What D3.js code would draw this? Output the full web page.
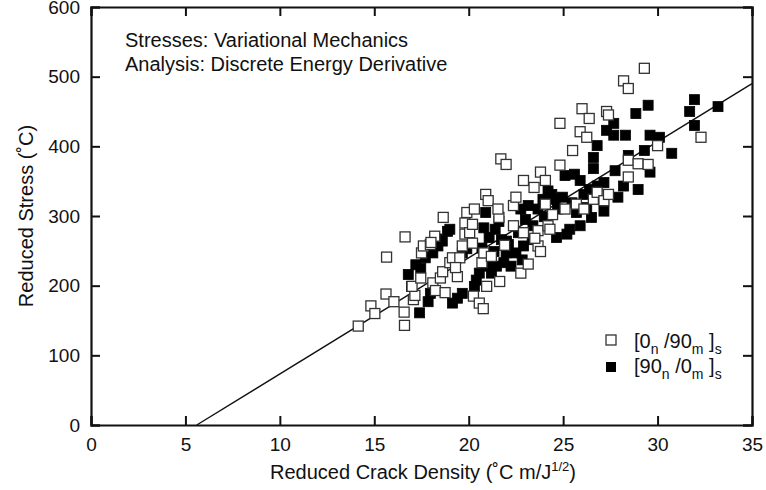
<!DOCTYPE html>
<html>
<head>
<meta charset="utf-8">
<script src="https://cdn.jsdelivr.net/npm/d3@7"></script>
<style>
  body { margin: 0; background: #fff; }
  text { font-family: "Liberation Sans", Arial, sans-serif; fill: #111; }
</style>
</head>
<body>
<div id="drawArea"></div>
<script>
// [0n/90m]s laminates (open squares)
var openX = [14.15, 14.82, 15.03, 15.65, 15.62, 16.04, 16.58, 16.6, 16.63, 17.07,
    17.15, 17.0, 17.46, 17.5, 17.6, 17.97, 18.2, 18.65, 18.1, 18.24,
    18.5, 18.75, 18.62, 19.0, 19.14, 19.4, 19.53, 19.66, 19.8, 19.8,
    19.9, 20.05, 20.2, 20.2, 20.3, 20.25, 20.56, 20.77, 20.7, 20.8,
    20.9, 21.03, 20.95, 21.2, 21.6, 21.55, 21.64, 21.7, 21.98, 22.37,
    22.5, 22.37, 22.76, 22.9, 22.9, 23.15, 23.46, 23.67, 23.8, 23.8,
    23.67, 24.06, 24.06, 24.2, 24.3, 24.44, 24.83, 24.83, 25.1, 25.5,
    25.7, 25.9, 26.0, 26.1, 26.25, 26.38, 26.6, 26.8, 27.16, 27.3,
    27.4, 27.4, 28.2, 28.45, 28.45, 28.45, 28.97, 29.3, 29.5, 30.0,
    32.3, 18.0, 19.3, 21.9, 23.5];
var openY = [142, 171, 160, 241, 188, 177, 162, 143, 270, 180,
    186, 199, 211, 247, 257, 259, 271, 298, 204, 193,
    211, 190, 220, 233, 240, 213, 240, 257, 274, 290,
    305, 276, 261, 288, 310, 185, 175, 167, 233, 247,
    331, 322, 199, 242, 298, 310, 206, 382, 374, 315,
    327, 286, 218, 276, 351, 231, 341, 257, 249, 363,
    279, 351, 317, 286, 281, 302, 433, 373, 310, 394,
    317, 421, 454, 310, 413, 440, 324, 334, 322, 450,
    445, 331, 494, 483, 380, 356, 375, 512, 374, 401,
    413, 262, 226, 258, 268];

// [90n/0m]s laminates (filled squares)
var filledX = [17.4, 16.8, 16.97, 17.2, 17.46, 17.85, 17.97, 17.7, 18.1, 18.37,
    18.6, 18.88, 19.0, 19.14, 19.4, 19.66, 19.66, 19.9, 20.3, 20.4,
    20.56, 20.7, 20.8, 20.9, 20.95, 21.08, 21.2, 21.34, 21.4, 21.47,
    21.73, 21.86, 21.98, 22.1, 22.24, 22.5, 22.63, 22.76, 22.83, 22.9,
    23.0, 23.15, 23.36, 23.4, 23.67, 23.93, 24.2, 24.4, 24.57, 24.65,
    24.7, 24.96, 25.1, 25.2, 25.35, 25.47, 25.6, 25.7, 25.9, 25.9,
    26.1, 26.25, 26.4, 26.5, 26.6, 26.6, 26.8, 26.8, 27.16, 27.16,
    27.3, 27.68, 27.68, 27.75, 27.9, 28.2, 28.3, 28.45, 28.85, 28.97,
    29.3, 29.5, 29.6, 29.6, 30.1, 30.75, 31.7, 31.95, 31.95, 33.2,
    18.3, 22.0, 24.0, 21.6];
var filledY = [161, 216, 199, 230, 225, 177, 189, 240, 247, 257,
    264, 278, 281, 175, 182, 189, 247, 253, 199, 208,
    218, 254, 283, 305, 228, 269, 218, 249, 281, 228,
    266, 233, 247, 259, 228, 247, 276, 310, 237, 257,
    295, 315, 266, 286, 310, 324, 336, 331, 324, 269,
    310, 327, 358, 274, 281, 319, 360, 305, 351, 286,
    331, 312, 338, 298, 368, 384, 343, 401, 307, 348,
    423, 433, 416, 365, 327, 343, 416, 387, 447, 338,
    394, 459, 416, 363, 413, 390, 450, 467, 430, 457,
    267, 264, 299, 292];

// fitted line end points
var fitX = [5.6, 35];
var fitY = [0, 490];

var xTicks = [0, 5, 10, 15, 20, 25, 30, 35];
var yTicks = [0, 100, 200, 300, 400, 500, 600];

var width = 766, height = 490;
var mLeft = 91, mRight = 752, mTop = 7, mBottom = 425;

var svg = d3.select('#drawArea')
    .append('svg')
    .attr('width', width)
    .attr('height', height);

var x = d3.scaleLinear().domain([0, 35]).range([mLeft, mRight]);
var y = d3.scaleLinear().domain([0, 600]).range([mBottom, mTop]);

// axes: ticks pointing inward on all four sides
svg.append('g')
    .attr('transform', 'translate(0,' + mBottom + ')')
    .call(d3.axisBottom(x).tickValues(xTicks).tickSize(-9).tickPadding(13))
    .call(styleAxis);
svg.append('g')
    .attr('transform', 'translate(0,' + mTop + ')')
    .call(d3.axisTop(x).tickValues(xTicks).tickSize(-9).tickFormat(''))
    .call(styleAxis);
svg.append('g')
    .attr('transform', 'translate(' + mLeft + ',0)')
    .call(d3.axisLeft(y).tickValues(yTicks).tickSize(-9).tickPadding(11))
    .call(styleAxis);
svg.append('g')
    .attr('transform', 'translate(' + mRight + ',0)')
    .call(d3.axisRight(y).tickValues(yTicks).tickSize(-9).tickFormat(''))
    .call(styleAxis);

function styleAxis(g) {
    g.select('.domain').attr('stroke', '#111').attr('stroke-width', 2.2);
    g.selectAll('.tick line').attr('stroke', '#111').attr('stroke-width', 2);
    g.selectAll('.tick text')
        .attr('font-size', 19)
        .attr('font-family', '"Liberation Sans", Arial, sans-serif')
        .attr('fill', '#111');
}

// fit line
svg.append('line')
    .attr('x1', x(fitX[0])).attr('y1', y(fitY[0]))
    .attr('x2', x(fitX[1])).attr('y2', y(fitY[1]))
    .attr('stroke', '#111')
    .attr('stroke-width', 1.4);

var filled = filledX.map(function (d, i) { return { x: d, y: filledY[i] }; });
var open = openX.map(function (d, i) { return { x: d, y: openY[i] }; });
var s = 10;

svg.selectAll('rect.filled')
    .data(filled)
    .enter()
    .append('rect')
    .attr('class', 'filled')
    .attr('x', function (d) { return x(d.x) - s / 2; })
    .attr('y', function (d) { return y(d.y) - s / 2; })
    .attr('width', s).attr('height', s)
    .attr('fill', '#000')
    .attr('stroke', '#000')
    .attr('stroke-width', 0.8);

svg.selectAll('rect.open')
    .data(open)
    .enter()
    .append('rect')
    .attr('class', 'open')
    .attr('x', function (d) { return x(d.x) - s / 2; })
    .attr('y', function (d) { return y(d.y) - s / 2; })
    .attr('width', s).attr('height', s)
    .attr('fill', '#fff')
    .attr('stroke', '#333')
    .attr('stroke-width', 1.3);

// annotation
svg.append('text').attr('x', 125).attr('y', 47).attr('font-size', 20)
    .text('Stresses: Variational Mechanics');
svg.append('text').attr('x', 125).attr('y', 71).attr('font-size', 20)
    .text('Analysis: Discrete Energy Derivative');

// legend
svg.append('rect').attr('x', 606).attr('y', 335).attr('width', s).attr('height', s)
    .attr('fill', '#fff').attr('stroke', '#333').attr('stroke-width', 1.3);
svg.append('rect').attr('x', 606).attr('y', 362).attr('width', s).attr('height', s)
    .attr('fill', '#000');

function legendLabel(yy, a, b) {
    var t = svg.append('text').attr('x', 634).attr('y', yy).attr('font-size', 20);
    t.append('tspan').text('[' + a);
    t.append('tspan').attr('dy', 6).attr('font-size', 14).text('n');
    t.append('tspan').attr('dy', -6).text(' /' + b);
    t.append('tspan').attr('dy', 6).attr('font-size', 14).text('m');
    t.append('tspan').attr('dy', -6).text(' ]');
    t.append('tspan').attr('dy', 6).attr('font-size', 14).text('s');
}
legendLabel(348, '0', '90');
legendLabel(373, '90', '0');

// axis titles
var xt = svg.append('text')
    .attr('x', 423).attr('y', 479)
    .attr('text-anchor', 'middle')
    .attr('font-size', 20);
xt.append('tspan').text('Reduced Crack Density (\u02DAC m/J');
xt.append('tspan').attr('dy', -8).attr('font-size', 13).text('1/2');
xt.append('tspan').attr('dy', 8).text(')');

svg.append('text')
    .attr('transform', 'translate(33,216) rotate(-90)')
    .attr('text-anchor', 'middle')
    .attr('font-size', 20)
    .text('Reduced Stress (\u02DAC)');
</script>
</body>
</html>
